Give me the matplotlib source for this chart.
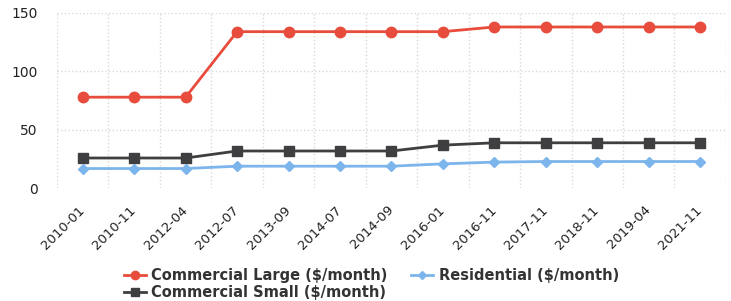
import matplotlib
matplotlib.use("Agg")
import matplotlib.pyplot as plt
import numpy as np

dates = ["2010-01", "2010-11", "2012-04", "2012-07", "2013-09", "2014-07", "2014-09",
         "2016-01", "2016-11", "2017-11", "2018-11", "2019-04", "2021-11"]
commercial_large = [78, 78, 78, 134, 134, 134, 134, 134, 138, 138, 138, 138, 138]
commercial_small = [26, 26, 26, 32, 32, 32, 32, 37, 39, 39, 39, 39, 39]
residential = [17, 17, 17, 19, 19, 19, 19, 21, 22.5, 23, 23, 23, 23]

fig = plt.figure(figsize=(7.31, 3.01), dpi=100)
ax = fig.add_axes([0.078, 0.374, 0.915, 0.583])

x = np.arange(len(dates))
ax.plot(x, commercial_large, color="#e74c3c", lw=2, marker="o", ms=7.5,
        label="Commercial Large ($/month)")
ax.plot(x, commercial_small, color="#3f3f42", lw=2, marker="s", ms=7.5,
        label="Commercial Small ($/month)")
ax.plot(x, residential, color="#7cb5ec", lw=2, marker="D", ms=5,
        label="Residential ($/month)")

ax.set_xlim(-0.5, len(dates) - 0.5)
ax.set_ylim(0, 150)
ax.set_yticks([0, 50, 100, 150])
ax.set_xticks(x)
ax.set_xticklabels(dates, rotation=45, ha="right", va="center",
                   rotation_mode="anchor", fontsize=9.5)
ax.set_xticks(np.arange(len(dates) + 1) - 0.5, minor=True)

for s in ax.spines.values():
    s.set_visible(False)
ax.tick_params(axis="both", which="both", length=0, colors="#222222")
ax.tick_params(axis="y", labelsize=10, pad=14)
ax.tick_params(axis="x", pad=14)

ax.grid(True, axis="y", which="major", color="#d8d8d8", ls=":", lw=1)
ax.grid(True, axis="x", which="minor", color="#d8d8d8", ls=":", lw=1)
ax.grid(False, axis="x", which="major")
ax.yaxis.get_gridlines()[0].set_visible(False)

leg = fig.legend(loc="lower center", bbox_to_anchor=(0.508, -0.04), ncol=2, frameon=False,
                 prop={"weight": "bold", "size": 10.5}, handlelength=1.5, markerscale=0.8,
                 handletextpad=0.4, columnspacing=1.6, labelspacing=0.1)
for t in leg.get_texts():
    t.set_color("#333333")

fig.savefig("out.png", dpi=100)
